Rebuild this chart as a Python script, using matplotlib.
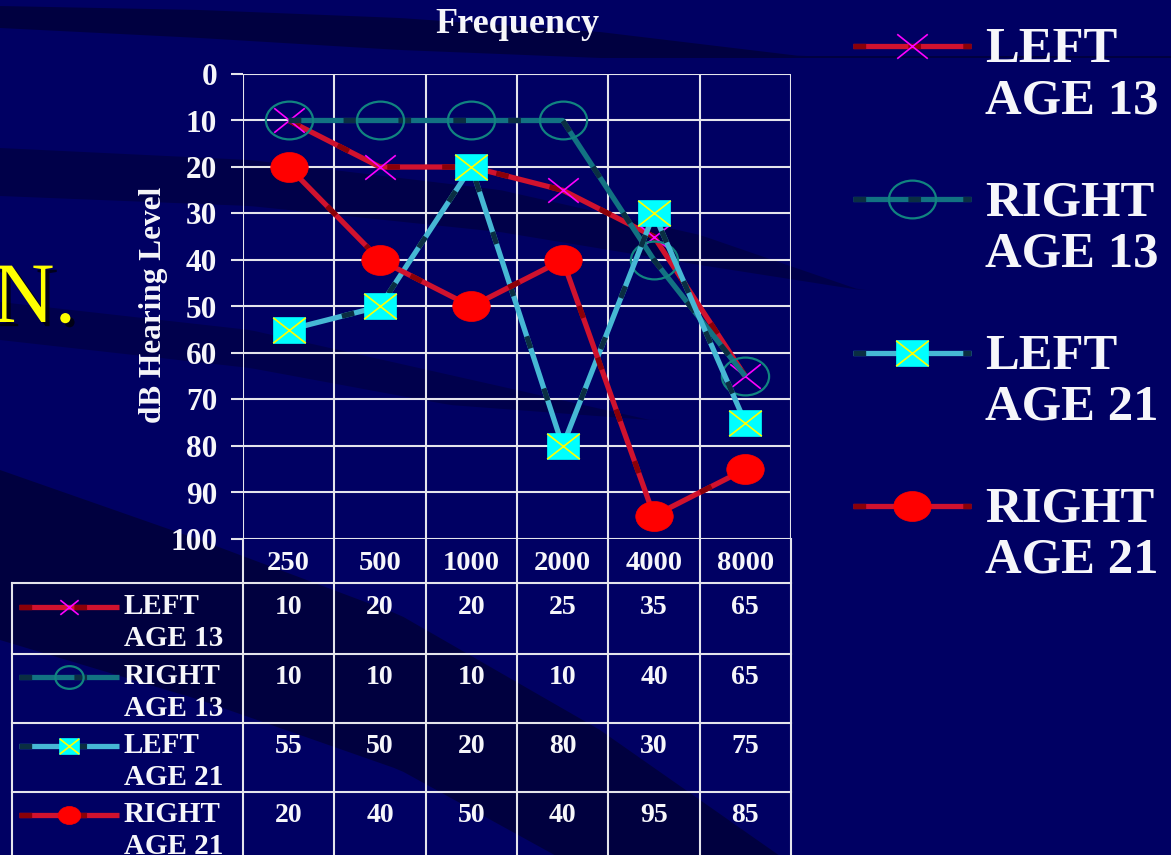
import numpy as np
import matplotlib
matplotlib.use('Agg')
import matplotlib.pyplot as plt
import matplotlib.patheffects as pe
from matplotlib import transforms
from matplotlib.path import Path

## Audiogram thresholds (dB HL) at each test frequency
freqs = ['250', '500', '1000', '2000', '4000', '8000']
left_13 = [10, 20, 20, 25, 35, 65]
right_13 = [10, 10, 10, 10, 40, 65]
left_21 = [55, 50, 20, 80, 30, 75]
right_21 = [20, 40, 50, 40, 95, 85]
series_names = ['LEFT AGE 13', 'RIGHT AGE 13', 'LEFT AGE 21', 'RIGHT AGE 21']
y_ticks = list(range(0, 101, 10))

W, H = 1171, 855
NAVY = '#000063'
WHITE = '#F6F6FA'
GRID = '#E4E4EC'

plt.rcParams['font.family'] = ['Liberation Serif', 'DejaVu Serif']
plt.rcParams['font.weight'] = 'bold'
plt.rcParams['axes.titleweight'] = 'bold'
plt.rcParams['axes.labelweight'] = 'bold'

## Marker shapes (slightly wider than tall)
circ = Path.unit_circle()
ellipse = Path(circ.vertices * [1.0, 0.8], circ.codes)
box = Path([(-0.5, -0.39), (0.5, -0.39), (0.5, 0.39), (-0.5, 0.39), (-0.5, -0.39)],
           [Path.MOVETO, Path.LINETO, Path.LINETO, Path.LINETO, Path.CLOSEPOLY])
cross = Path([(-0.5, -0.39), (0.5, 0.39), (-0.5, 0.39), (0.5, -0.39)],
             [Path.MOVETO, Path.LINETO, Path.MOVETO, Path.LINETO])
xmark = Path([(-0.5, -0.4), (0.5, 0.4), (-0.5, 0.4), (0.5, -0.4)],
             [Path.MOVETO, Path.LINETO, Path.MOVETO, Path.LINETO])

styles = [
    dict(line='#D0122E', dash='#8A0008',
         marks=[dict(marker=xmark, ms=22, mec='#FF00FF', mew=1.2, mfc='none')]),
    dict(line='#127282', dash='#0A2E42',
         marks=[dict(marker=ellipse, ms=34, mec='#118480', mew=1.6, mfc='none')]),
    dict(line='#46B8D4', dash='#0A2E42',
         marks=[dict(marker=box, ms=23.5, mec='#00FFFF', mew=0.5, mfc='#00FFFF'),
                dict(marker=cross, ms=23.5, mec='#FFFF00', mew=1.2, mfc='none')]),
    dict(line='#D0122E', dash='#8A0008',
         marks=[dict(marker=ellipse, ms=27, mec='#FF0000', mew=0.5, mfc='#FF0000')]),
]
values = [left_13, right_13, left_21, right_21]
LW = 3.8
DASH = (2.4, 8)


def draw_series(axis, xs, ys, st, z=3):
    axis.plot(xs, ys, color=st['line'], lw=LW, solid_capstyle='butt', clip_on=False, zorder=z)
    axis.plot(xs, ys, color=st['dash'], lw=LW, dashes=DASH, clip_on=False, zorder=z)
    for m in st['marks']:
        axis.plot(xs, ys, ls='none', clip_on=False, zorder=z, **m)


def draw_handle(axis, x0, x1, y, st, scale):
    axis.plot([x0, x1], [y, y], color=st['line'], lw=LW, solid_capstyle='butt', zorder=3)
    axis.plot([x0, x1], [y, y], color=st['dash'], lw=LW, dashes=DASH, zorder=3)
    for m in st['marks']:
        mm = dict(m)
        mm['ms'] = m['ms'] * scale
        axis.plot([(x0 + x1) / 2], [y], ls='none', zorder=4, **mm)


fig = plt.figure(figsize=(W / 100, H / 100), dpi=100, facecolor=NAVY)

## full-figure pixel axes for background, table and legend
ax_px = fig.add_axes([0, 0, 1, 1])
ax_px.set_xlim(0, W)
ax_px.set_ylim(H, 0)
ax_px.axis('off')

bx = np.linspace(0, W, 120)


def band(xp, top, bot, color, alpha):
    ax_px.fill_between(bx, np.interp(bx, xp, top), np.interp(bx, xp, bot),
                       color=color, alpha=alpha, lw=0, zorder=0)


band([0, 200, 400, 600, 800], [6, 10, 18, 32, 56], [28, 38, 50, 58, 58], '#00002a', 0.6)
band([0, 250, 500, 700, 860], [148, 160, 190, 235, 290], [196, 206, 232, 265, 290], '#00002a', 0.45)
band([0, 250, 450, 650], [302, 330, 375, 420], [340, 368, 405, 420], '#00002a', 0.4)
band([0, 200, 400, 600, 800, 1000], [470, 540, 615, 730, 870, 900],
     [640, 700, 770, 880, 900, 900], '#000022', 0.55)

ax_px.text(76, 322, 'N.', fontsize=62, fontweight='normal', color='#FFFF00',
           ha='right', va='baseline', zorder=2,
           path_effects=[pe.withSimplePatchShadow(offset=(3, -3), shadow_rgbFace='black', alpha=0.7)])

## chart area
L, R, T, B = 243, 791, 74, 539
ax = fig.add_axes([L / W, 1 - B / H, (R - L) / W, (B - T) / H])
ax.set_zorder(3)
ax.patch.set_visible(False)
x = np.arange(len(freqs))
ax.set_xlim(-0.5, len(freqs) - 0.5)
ax.set_ylim(100, 0)
ax.set_yticks(y_ticks)
ax.set_xticks([])
ax.set_xticks(np.arange(-0.5, len(freqs)), minor=True)
for s in ax.spines.values():
    s.set_visible(False)
ax.grid(which='minor', axis='x', color=GRID, lw=1.5)
ax.grid(which='major', axis='y', color=GRID, lw=1.5)
ax.tick_params(axis='x', which='both', length=0, labelbottom=False)
ax.tick_params(axis='y', direction='out', length=8.6, width=1.5, color=GRID,
               labelsize=22.5, labelcolor=WHITE, pad=10)
ax.set_title('Frequency', fontsize=26, color=WHITE, y=(B - 33) / (B - T), pad=0)
ax.set_ylabel('dB Hearing Level', fontsize=22.5, color=WHITE, va='center')
ax.yaxis.set_label_coords((153 - L) / (R - L), (B - 305) / (B - T))

for vals, st in zip(values, styles):
    draw_series(ax, x, vals, st)

## data table under the chart
mix = transforms.blended_transform_factory(ax.transData, ax_px.transData)
row_top = [583, 654, 723, 792]
row_base = [614, 684, 753, 822]
for xb in np.arange(-0.5, len(freqs)):
    ax_px.plot([xb, xb], [B, H], color=GRID, lw=1.5, transform=mix, zorder=2)
ax_px.plot([12, 12], [row_top[0], H], color=GRID, lw=1.5, zorder=2)
for yt in row_top:
    ax_px.plot([12, R], [yt, yt], color=GRID, lw=1.5, zorder=2)

for xi, f in zip(x, freqs):
    ax_px.text(xi, 570, f, transform=mix, ha='center', va='baseline',
               fontsize=20.5, color=WHITE, zorder=3)

for vals, st, name, yb in zip(values, styles, series_names, row_base):
    first, second = name.split(' ', 1)
    draw_handle(ax_px, 19, 119, yb - 7, st, 0.6)
    ax_px.text(124, yb, first, fontsize=21, color=WHITE, va='baseline', zorder=3)
    ax_px.text(124, yb + 32, second, fontsize=21, color=WHITE, va='baseline', zorder=3)
    for xi, v in zip(x, vals):
        ax_px.text(xi, yb, str(v), transform=mix, ha='center', va='baseline',
                   fontsize=20, color=WHITE, zorder=3)

## legend on the right
for i, (st, name) in enumerate(zip(styles, series_names)):
    yl = 46 + i * 153.3
    first, second = name.split(' ', 1)
    draw_handle(ax_px, 853, 971, yl, st, 1.0)
    ax_px.text(985, yl + 16, first, fontsize=36.5, color=WHITE, va='baseline')
    ax_px.text(985, yl + 67, second, fontsize=36.5, color=WHITE, va='baseline')

fig.savefig('out.png', dpi=100, facecolor=NAVY)
